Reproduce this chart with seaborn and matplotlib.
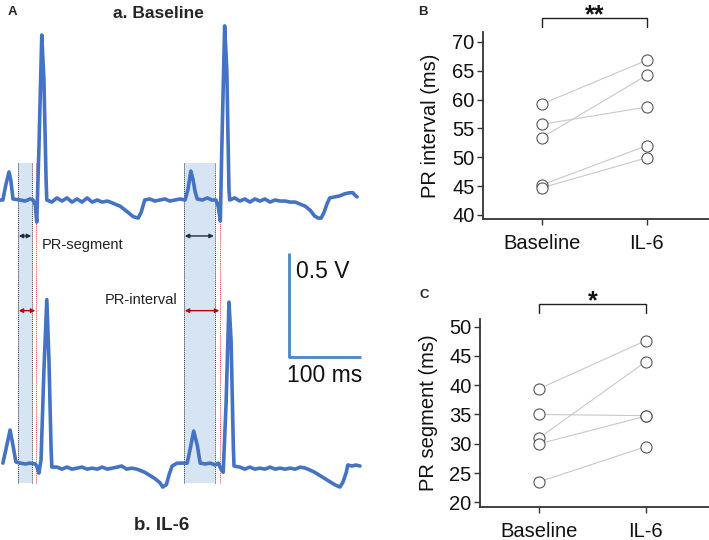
import numpy as np
import pandas as pd
import matplotlib
matplotlib.use("Agg")
import matplotlib.pyplot as plt
import matplotlib.transforms as mtransforms
import seaborn as sns

sns.set_style("ticks")
plt.rcParams["font.family"] = ["Liberation Sans", "DejaVu Sans"]

# ---------------- data ----------------
conditions = ["Baseline", "IL-6"]

pr_interval_baseline = [59.2, 55.7, 53.4, 45.2, 44.7]
pr_interval_il6 = [66.8, 58.7, 64.2, 52.0, 49.9]

pr_segment_baseline = [39.4, 35.0, 31.0, 30.0, 23.5]
pr_segment_il6 = [47.6, 34.8, 44.0, 34.7, 29.5]

interval_yticks = [40, 45, 50, 55, 60, 65, 70]
segment_yticks = [20, 25, 30, 35, 40, 45, 50]

# ECG traces: time (ms), voltage (V)
ecg_a_t = [0, 4, 8, 12.5, 15, 18, 28, 35, 42, 46, 49, 51, 54, 58, 61, 64, 65,
           72, 79, 86, 93, 100, 107, 114, 121, 128, 135, 142, 149, 153,
           167, 178, 185, 192, 196, 201, 208, 215, 222, 229, 236, 243, 250, 257,
           261, 265, 268, 271, 274, 281, 288, 294, 300, 303, 306, 308, 312, 315, 318, 319,
           326, 333, 340, 347, 354, 361, 368, 375, 382, 389, 396, 403, 410, 417, 424,
           431, 437, 442, 446, 450, 454, 458, 465, 472, 479, 486, 490, 494, 496]
ecg_a_v = [0, 0, 0.072, 0.135, 0.096, 0.005, 0, -0.005, 0.005, 0, -0.024, -0.106, 0.24, 0.793, 0.577, 0.096, 0,
           -0.01, 0.01, -0.005, 0.01, -0.01, 0.005, -0.01, 0.01, -0.01, 0.0, -0.01, -0.005, -0.01,
           -0.03, -0.06, -0.08, -0.087, -0.06, 0.0, 0.005, -0.005, 0.0, 0.005, -0.005, 0.0, 0.005, 0.0,
           0.05, 0.139, 0.10, 0.04, 0.005, 0.0, 0.01, 0.0, 0.0, -0.03, -0.101, 0.24, 0.837, 0.625, 0.048, 0.0,
           0.01, -0.005, 0.005, -0.01, 0.005, -0.005, 0.005, -0.01, 0.0, -0.005, -0.005, -0.01, -0.01, -0.02, -0.03,
           -0.05, -0.077, -0.087, -0.087, -0.06, -0.02, 0.01, 0.015, 0.02, 0.03, 0.035, 0.035, 0.02, 0.015]

ecg_b_t = [4, 8, 14, 18, 22, 28, 35, 42, 49, 51, 54, 57, 61, 65, 68, 71, 72,
           79, 86, 93, 100, 107, 114, 121, 128, 135, 142, 149, 156, 163, 169, 176, 183, 190, 194,
           201, 208, 215, 222, 226, 231, 235, 239, 246, 253, 260,
           264, 269, 274, 278, 285, 292, 299, 303, 307, 310, 314, 318, 321, 324, 325,
           333, 340, 347, 354, 361, 368, 375, 382, 389, 396, 403, 410, 417, 424, 431, 437,
           444, 451, 458, 465, 472, 476, 481, 483, 489, 494, 500]
ecg_b_v = [0.014, 0.077, 0.173, 0.10, 0.02, 0.014, 0.01, 0.014, 0.01, 0.0, -0.034, 0.03, 0.46, 0.80, 0.51, 0.077, -0.005,
           -0.005, -0.015, -0.005, -0.015, -0.01, -0.005, -0.015, -0.01, -0.015, -0.005, -0.015, -0.01, -0.005, 0.0, -0.015, -0.01, -0.015, -0.02,
           -0.03, -0.045, -0.06, -0.08, -0.101, -0.09, -0.04, 0.0, 0.014, 0.014, 0.014,
           0.08, 0.168, 0.10, 0.014, 0.01, 0.014, 0.005, 0.014, -0.015, -0.03, 0.3, 0.788, 0.6, 0.1, 0.0,
           -0.005, -0.015, -0.005, -0.015, -0.01, -0.015, -0.005, -0.015, -0.01, -0.015, -0.01, -0.015, -0.005, -0.01, -0.02, -0.03,
           -0.045, -0.06, -0.075, -0.09, -0.101, -0.08, -0.03, 0.005, 0.0, 0.005, 0.0]

pr_start = [25, 255.6]      # ms, start of P wave (shaded start)
pr_seg_end = [44.4, 298]    # ms, end of PR segment
pr_int_end = [50, 305.6]    # ms, onset of QRS
scale_v = 0.5               # V
scale_ms = 100              # ms

# ---------------- figure ----------------
W, H = 709, 540
fig = plt.figure(figsize=(W / 100, H / 100), dpi=100)

blue = "#4472c4"
offset_b = -1.279

# Panel A
axA = fig.add_axes([0, 0, 365 / W, 1])
axA.set_xlim(0, 365 / 0.72)
axA.set_ylim((200 - 540) / 208, 200 / 208)
axA.axis("off")

for i in range(2):
    axA.axvspan(pr_start[i], pr_seg_end[i], ymin=(540 - 483) / 540, ymax=(540 - 163) / 540,
                color="#d6e4f4", lw=0, zorder=0)
    for xx in (pr_start[i], pr_seg_end[i]):
        axA.axvline(xx, ymin=(540 - 483) / 540, ymax=(540 - 163) / 540,
                    color="#333333", lw=0.7, ls=(0, (1, 1)), zorder=1)
    axA.axvline(pr_int_end[i], ymin=(540 - 483) / 540, ymax=(540 - 163) / 540,
                color="#e83a3a", lw=0.7, ls=(0, (1, 1)), zorder=1)
    axA.annotate("", xy=(pr_start[i] + 1, -0.173), xytext=(pr_seg_end[i] - 1, -0.173),
                 arrowprops=dict(arrowstyle="<|-|>", color="#1f2d3d", lw=1.0,
                                 mutation_scale=6, shrinkA=0, shrinkB=0))
    axA.annotate("", xy=(pr_start[i] + 1, -0.532), xytext=(pr_int_end[i] - 1, -0.532),
                 arrowprops=dict(arrowstyle="<|-|>", color="#c00000", lw=1.0,
                                 mutation_scale=6, shrinkA=0, shrinkB=0))

dfa = pd.DataFrame({"t": ecg_a_t, "v": ecg_a_v})
dfb = pd.DataFrame({"t": ecg_b_t, "v": np.array(ecg_b_v) + offset_b})
sns.lineplot(data=dfa, x="t", y="v", ax=axA, sort=False, estimator=None,
             color=blue, lw=2.6, zorder=3)
sns.lineplot(data=dfb, x="t", y="v", ax=axA, sort=False, estimator=None,
             color=blue, lw=2.6, zorder=3)
axA.set_xlabel("")
axA.set_ylabel("")

# scale bar
sb_x0 = 401.4
sb_y0 = -0.255 - scale_v
axA.plot([sb_x0, sb_x0, sb_x0 + scale_ms], [sb_y0 + scale_v, sb_y0, sb_y0],
         color="#4a86c8", lw=2.0, solid_capstyle="butt", clip_on=False)
axA.text(411, -0.346, "0.5 V", fontsize=16.5, va="center", ha="left", color="#111111")
axA.text(399, -0.845, "100 ms", fontsize=16.5, va="center", ha="left", color="#111111")
axA.text(58, -0.216, "PR-segment", fontsize=10.5, va="center", ha="left", color="#222222")
axA.text(146, -0.48, "PR-interval", fontsize=10.5, va="center", ha="left", color="#222222")

fig.text(8 / W, 1 - 12 / H, "A", fontsize=9.5, fontweight="bold", va="center", ha="left")
fig.text(158 / W, 1 - 14 / H, "a. Baseline", fontsize=12.5, fontweight="bold", va="center", ha="center")
fig.text(162 / W, 1 - 526 / H, "b. IL-6", fontsize=13.5, fontweight="bold", va="center", ha="center")


def paired_panel(rect, base, il6, ylim, yticks, xlim, ylabel, stars, br_top, br_bot, star_y, lpad):
    ax = fig.add_axes(rect)
    n = len(base)
    df = pd.DataFrame({
        "subject": list(range(n)) * 2,
        "cond": [0] * n + [1] * n,
        "value": list(base) + list(il6),
    })
    sns.lineplot(data=df, x="cond", y="value", units="subject", estimator=None,
                 color="#c8c8c8", lw=0.8, ax=ax, zorder=2)
    sns.scatterplot(data=df, x="cond", y="value", ax=ax, s=64, facecolor="white",
                    edgecolor="#555555", linewidth=0.8, zorder=3)
    ax.set_xlim(*xlim)
    ax.set_ylim(*ylim)
    ax.set_xticks([0, 1])
    ax.set_xticklabels(conditions)
    ax.set_yticks(yticks)
    ax.set_xlabel("")
    ax.set_ylabel(ylabel, fontsize=14.5, color="#111111", labelpad=lpad)
    ax.tick_params(axis="both", labelsize=14.5, length=4.5, width=1.0, colors="#333333",
                   labelcolor="#111111")
    ax.tick_params(axis="x", pad=6)
    ax.tick_params(axis="y", pad=1.5)
    for s in ("top", "right"):
        ax.spines[s].set_visible(False)
    for s in ("left", "bottom"):
        ax.spines[s].set_color("#333333")
        ax.spines[s].set_linewidth(1.3)
    trans = mtransforms.blended_transform_factory(ax.transData, ax.transAxes)
    ax.plot([0, 0, 1, 1], [br_bot, br_top, br_top, br_bot], color="#222222", lw=1.0,
            transform=trans, clip_on=False)
    ax.text(0.5, star_y, stars, transform=trans, ha="center", va="baseline",
            fontsize=18, fontweight="bold", color="#111111")
    return ax


axB = paired_panel([483 / W, 1 - 219 / H, 226 / W, 187 / H],
                   pr_interval_baseline, pr_interval_il6, (39.3, 71.7), interval_yticks,
                   (-0.559, 1.593), "PR interval (ms)", "**", 1.075, 1.027, 1.05, 9)
axC = paired_panel([480 / W, 1 - 507 / H, 229 / W, 188 / H],
                   pr_segment_baseline, pr_segment_il6, (19.2, 51.3), segment_yticks,
                   (-0.557, 1.595), "PR segment (ms)", "*", 1.08, 1.032, 1.055, 8)

fig.text(418 / W, 1 - 12 / H, "B", fontsize=9.5, fontweight="bold", va="center", ha="left")
fig.text(419 / W, 1 - 295 / H, "C", fontsize=9.5, fontweight="bold", va="center", ha="left")

fig.savefig("out.png", dpi=100)
